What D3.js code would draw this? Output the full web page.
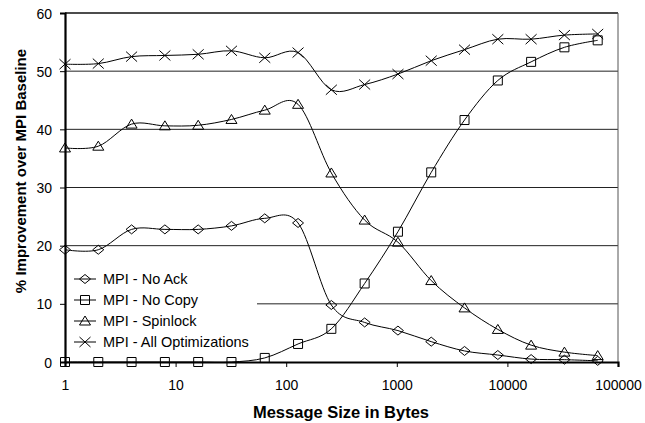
<!DOCTYPE html>
<head>
<meta charset="utf-8">
<style>
	body{
		margin: 0;
		background: white;
	}
	svg{
		display: block;
		font-family: Arial, "Liberation Sans", sans-serif;
	}
</style>
</head>
<body>
<script src="https://cdn.jsdelivr.net/npm/d3@7/dist/d3.min.js"></script>
<svg width="645" height="423"></svg>
<script>
	// message sizes in bytes (powers of two)
	var sizes = [1,2,4,8,16,32,64,128,256,512,1024,2048,4096,8192,16384,32768,65536];
	var noAck = [19.3,19.3,22.8,22.8,22.8,23.4,24.7,23.9,9.8,6.8,5.4,3.5,1.9,1.2,0.5,0.4,0.2];
	var noCopy = [0,0,0,0,0,0,0.7,3.1,5.7,13.5,22.4,32.6,41.6,48.4,51.6,54.1,55.3];
	var spinlock = [36.8,37.1,40.9,40.6,40.7,41.7,43.3,44.3,32.5,24.4,20.6,14.0,9.3,5.6,2.9,1.7,1.1];
	var allOpt = [51.2,51.3,52.5,52.7,52.9,53.5,52.3,53.2,46.8,47.7,49.5,51.8,53.7,55.5,55.5,56.2,56.4];
	var seriesNames = ["MPI - No Ack","MPI - No Copy","MPI - Spinlock","MPI - All Optimizations"];
	var xTicks = [1,10,100,1000,10000,100000];
	var yTicks = [0,10,20,30,40,50,60];

	var series = [noAck, noCopy, spinlock, allOpt];
	var markers = ["diamond","square","triangle","cross"];

	var svg = d3.select("svg");
	var pLeft = 65, pRight = 618, pTop = 13, pBottom = 362;

	var x = d3.scaleLog().domain([1,100000]).range([pLeft,pRight]);
	var y = d3.scaleLinear().domain([0,60]).range([pBottom,pTop]);

	// gridlines
	svg.append("g").selectAll("line")
		.data(yTicks.filter(function(d){ return d > 0; }))
		.enter().append("line")
		.attr("x1",pLeft).attr("x2",pRight)
		.attr("y1",function(d){ return y(d); })
		.attr("y2",function(d){ return y(d); })
		.attr("stroke",function(d){ return d === 60 ? "#111" : "#222"; })
		.attr("stroke-width",function(d){ return d === 60 ? 1.5 : 1; });

	// right border of plot area
	svg.append("line")
		.attr("x1",pRight).attr("x2",pRight)
		.attr("y1",pTop).attr("y2",pBottom)
		.attr("stroke","#555").attr("stroke-width",1);

	// legend background hides part of the grid
	svg.append("rect")
		.attr("x",pLeft + 1).attr("y",268)
		.attr("width",191).attr("height",86)
		.attr("fill","white");

	function markerPath(type, cx, cy){
		var p = d3.path();
		if(type === "diamond"){
			p.moveTo(cx-5.5,cy); p.lineTo(cx,cy-4.5); p.lineTo(cx+5.5,cy); p.lineTo(cx,cy+4.5); p.closePath();
		}
		else if(type === "square"){
			p.rect(cx-4.5,cy-4.5,9,9);
		}
		else if(type === "triangle"){
			p.moveTo(cx,cy-5); p.lineTo(cx+5.5,cy+4); p.lineTo(cx-5.5,cy+4); p.closePath();
		}
		else{
			p.moveTo(cx-5.5,cy-5); p.lineTo(cx+5.5,cy+5);
			p.moveTo(cx+5.5,cy-5); p.lineTo(cx-5.5,cy+5);
		}
		return p.toString();
	}

	var line = d3.line()
		.x(function(d){ return x(d[0]); })
		.y(function(d){ return y(d[1]); })
		.curve(d3.curveCatmullRom.alpha(0));

	series.forEach(function(vals, i){
		var pts = sizes.map(function(s, j){ return [s, vals[j]]; });
		var g = svg.append("g");
		g.append("path")
			.attr("d", line(pts))
			.attr("fill","none")
			.attr("stroke","#000")
			.attr("stroke-width",1);
		g.selectAll("path.m")
			.data(pts)
			.enter().append("path")
			.attr("class","m")
			.attr("d",function(d){ return markerPath(markers[i], x(d[0]), y(d[1])); })
			.attr("fill","none")
			.attr("stroke","#000")
			.attr("stroke-width",1);
	});

	// axes
	var yAxis = svg.append("g")
		.attr("transform","translate(" + pLeft + ",0)")
		.call(d3.axisLeft(y).tickValues(yTicks).tickSize(5).tickPadding(8));
	var xAxis = svg.append("g")
		.attr("transform","translate(0," + pBottom + ")")
		.call(d3.axisBottom(x).tickValues(xTicks).tickFormat(d3.format("d")).tickSize(5).tickPadding(12));

	[yAxis, xAxis].forEach(function(a){
		a.select(".domain").attr("stroke","#000").attr("stroke-width",2.2);
		a.selectAll(".tick line").attr("stroke","#000").attr("stroke-width",1);
		a.selectAll(".tick text")
			.attr("fill","#000")
			.style("font-size","14px")
			.style("font-family","Arial, 'Liberation Sans', sans-serif");
	});
	yAxis.selectAll(".tick text").attr("dy","0.36em");
	xAxis.selectAll(".tick text").attr("dy","0.8em");

	// axis titles
	svg.append("text")
		.attr("x",341).attr("y",418)
		.attr("text-anchor","middle")
		.style("font-size","16.5px")
		.style("font-weight","bold")
		.text("Message Size in Bytes");

	svg.append("text")
		.attr("transform","translate(26,171) rotate(-90)")
		.attr("text-anchor","middle")
		.style("font-size","15px")
		.style("font-weight","bold")
		.text("% Improvement over MPI Baseline");

	// legend
	var legend = svg.append("g").selectAll("g")
		.data(seriesNames)
		.enter().append("g")
		.attr("transform",function(d, i){ return "translate(0," + (279 + i*21) + ")"; });

	legend.append("line")
		.attr("x1",74).attr("x2",96)
		.attr("y1",0).attr("y2",0)
		.attr("stroke","#000");
	legend.append("path")
		.attr("d",function(d, i){ return markerPath(markers[i], 85, 0); })
		.attr("fill","none")
		.attr("stroke","#000");
	legend.append("text")
		.attr("x",103).attr("y",0)
		.attr("dy","0.36em")
		.style("font-size","14.5px")
		.text(function(d){ return d; });
</script>
</body>
</html>
